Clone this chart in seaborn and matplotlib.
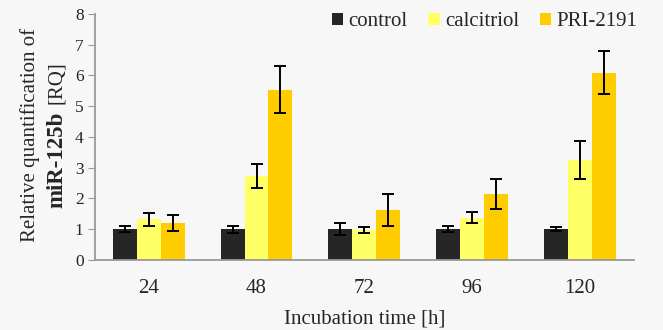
import numpy as np
import pandas as pd
import matplotlib
matplotlib.use("Agg")
import matplotlib.pyplot as plt
import seaborn as sns

# data
times = ["24", "48", "72", "96", "120"]
control = [1.0, 1.0, 1.0, 1.0, 1.0]
control_err = [0.10, 0.12, 0.20, 0.10, 0.07]
calcitriol = [1.32, 2.73, 0.98, 1.37, 3.25]
calcitriol_err = [0.22, 0.38, 0.10, 0.18, 0.61]
pri = [1.19, 5.53, 1.62, 2.15, 6.09]
pri_err = [0.26, 0.76, 0.51, 0.48, 0.70]

groups = ["control", "calcitriol", "PRI-2191"]
colors = ["#262626", "#FFFF66", "#FFCC00"]

df = pd.DataFrame({
    "time": times * 3,
    "group": [g for g in groups for _ in times],
    "value": control + calcitriol + pri,
})
errs = [control_err, calcitriol_err, pri_err]

sns.set_style("white")
plt.rcParams["font.family"] = ["Liberation Serif", "DejaVu Serif"]

fig = plt.figure(figsize=(6.63, 3.3), dpi=100, facecolor="#f7f7f7")
ax = fig.add_axes([0.143, 0.212, 0.813, 0.746])
ax.set_facecolor("#f7f7f7")

sns.barplot(data=df, x="time", y="value", hue="group", hue_order=groups,
            palette=colors, width=0.667, saturation=1, errorbar=None,
            linewidth=0, ax=ax)

for cont, err in zip(ax.containers, errs):
    for bar, e in zip(cont, err):
        ax.errorbar(bar.get_x() + bar.get_width() / 2, bar.get_height(), yerr=e,
                    fmt="none", ecolor="black", elinewidth=1.4, capsize=4.3,
                    capthick=1.4)

ax.set_ylim(0, 8)
ax.set_xlim(-0.5, 4.5)
ax.set_yticks(range(0, 9))
ax.set_xticks(range(5))
ax.set_xticks(np.arange(-0.5, 5, 1), minor=True)
ax.tick_params(axis="x", which="major", length=0, labelsize=15, pad=14)
ax.tick_params(axis="x", which="minor", length=5, color="#999999", direction="out")
ax.tick_params(axis="y", length=5, color="#999999", direction="out", labelsize=12.5, pad=3)
ax.tick_params(axis="both", bottom=True, left=True)

for s in ["top", "right"]:
    ax.spines[s].set_visible(False)
for s in ["left", "bottom"]:
    ax.spines[s].set_color("#999999")
    ax.spines[s].set_linewidth(1.3)

ax.set_xlabel("Incubation time [h]", fontsize=15, labelpad=8)
ax.set_ylabel("")

fig.text(30 / 663, 1 - 135 / 330, "Relative quantification of", rotation=90,
         ha="center", va="center", fontsize=15)
fig.text(57 / 663, 1 - 208 / 330, "miR-125b", rotation=90, ha="center",
         va="bottom", fontsize=16.5, fontweight="bold")
fig.text(57 / 663, 1 - 104 / 330, "[RQ]", rotation=90, ha="center",
         va="bottom", fontsize=15)

ax.legend(loc="upper right", bbox_to_anchor=(1.022, 1.04), ncol=3, frameon=False,
          borderaxespad=0, fontsize=15, handlelength=0.55, handleheight=0.55,
          handletextpad=0.25, columnspacing=1.0)

fig.savefig("out.png", dpi=100, facecolor=fig.get_facecolor())
